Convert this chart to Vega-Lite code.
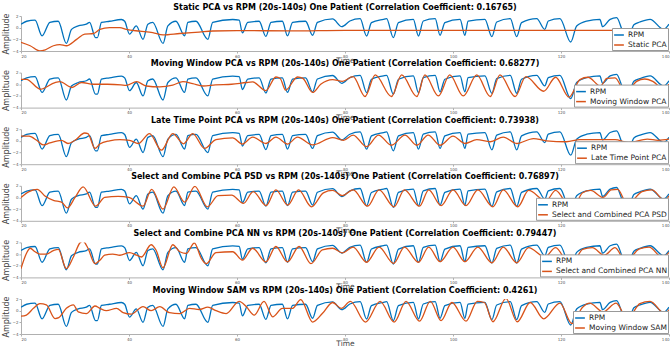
{
"$schema": "https://vega.github.io/schema/vega-lite/v6.json",
"background": "white",
"padding": {"left": 2, "top": 3, "right": 1, "bottom": 0},
"spacing": 21.6,
"bounds": "flush",
"resolve": {"scale": {"color": "independent"}, "legend": {"color": "independent"}},
"config": {
  "view": {"stroke": null},
  "font": "DejaVu Sans",
  "title": {"fontSize": 8, "font": "DejaVu Sans", "fontWeight": "bold", "anchor": "middle", "offset": 1.5, "color": "black"},
  "axis": {"grid": false, "domainColor": "#b0b0b0", "tickColor": "#b0b0b0", "labelFontSize": 4, "labelColor": "#555", "tickSize": 2, "labelPadding": 1, "labelOverlap": false, "labelBound": false, "titleFontSize": 7.5, "titleFontWeight": "normal", "titleColor": "#444", "titleFont": "DejaVu Sans", "labelFont": "DejaVu Sans"},
  "axisX": {"titlePadding": -1.5},
  "axisY": {"titlePadding": 2, "titleFontSize": 8},
  "legend": {"orient": "bottom-right", "offset": 1, "fillColor": "white", "strokeColor": "#999", "padding": 1, "labelFontSize": 7.5, "labelFont": "DejaVu Sans", "labelColor": "#222", "labelOffset": 3, "symbolType": "stroke", "symbolSize": 95, "symbolStrokeWidth": 1.5, "rowPadding": 0, "labelLimit": 300}
},
"datasets": {
"rpm": [{"t":20,"v":0.6},{"t":21.05,"v":1.1},{"t":22.6,"v":1.3},{"t":23.9,"v":-1.4},{"t":25.35,"v":0.9},{"t":26.9,"v":1.1},{"t":28.4,"v":-2.7},{"t":29.35,"v":-0.3},{"t":30.6,"v":0.3},{"t":32.1,"v":0.6},{"t":32.7,"v":0.9},{"t":33.8,"v":-1.7},{"t":34.15,"v":-1.7},{"t":34.9,"v":0.9},{"t":36.4,"v":1.1},{"t":38.6,"v":1.4},{"t":39.2,"v":1.1},{"t":40.1,"v":-1.1},{"t":41.35,"v":0.3},{"t":42.6,"v":-2.0},{"t":43.5,"v":0.6},{"t":44.4,"v":0.9},{"t":46.3,"v":-2.7},{"t":47.2,"v":0.3},{"t":48.7,"v":1.1},{"t":50.3,"v":-1.4},{"t":50.9,"v":0.9},{"t":52.4,"v":1.1},{"t":54.6,"v":-2.0},{"t":55.5,"v":0.9},{"t":59.2,"v":1.4},{"t":60.4,"v":1.3},{"t":61.0,"v":-0.9},{"t":62.0,"v":0.9},{"t":64.1,"v":1.1},{"t":65.35,"v":-1.5},{"t":66.3,"v":0.9},{"t":68.4,"v":1.1},{"t":69.35,"v":-1.4},{"t":70.3,"v":0.9},{"t":72.7,"v":1.1},{"t":74.0,"v":-1.3},{"t":74.9,"v":0.9},{"t":77.7,"v":1.5},{"t":79.4,"v":0.17},{"t":80.9,"v":1.14},{"t":82.8,"v":1.54},{"t":84.0,"v":-1.43},{"t":84.9,"v":0.86},{"t":87.1,"v":1.43},{"t":87.7,"v":1.54},{"t":88.95,"v":-1.7},{"t":89.9,"v":0.86},{"t":92.65,"v":1.43},{"t":93.6,"v":-1.43},{"t":94.5,"v":1.14},{"t":96.7,"v":1.54},{"t":97.6,"v":-1.3},{"t":98.5,"v":0.86},{"t":101.3,"v":1.43},{"t":102.2,"v":-1.3},{"t":102.8,"v":1.14},{"t":105.9,"v":1.43},{"t":107.2,"v":-1.54},{"t":108.1,"v":0.97},{"t":110.6,"v":1.54},{"t":111.8,"v":-1.54},{"t":112.7,"v":0.86},{"t":115.5,"v":1.54},{"t":117.0,"v":-0.29},{"t":117.65,"v":1.14},{"t":119.8,"v":1.54},{"t":121.8,"v":-2.46},{"t":122.9,"v":0.29},{"t":124.75,"v":1.14},{"t":127.2,"v":1.43},{"t":127.7,"v":0.17},{"t":129.1,"v":1.43},{"t":130.3,"v":1.71},{"t":131.5,"v":-0.74},{"t":132.5,"v":-1.5},{"t":133.5,"v":0.5},{"t":134.6,"v":0.97},{"t":136.5,"v":1.43},{"t":139.0,"v":-0.29},{"t":140,"v":0.6}],
"static": [{"t":20,"v":-2.5},{"t":21.7,"v":-3.1},{"t":23.5,"v":-4.0},{"t":24.5,"v":-3.8},{"t":26,"v":-3.1},{"t":27.2,"v":-2.9},{"t":28.4,"v":-3.1},{"t":30.3,"v":-2.0},{"t":31.8,"v":-1.1},{"t":33.4,"v":-1.0},{"t":34.6,"v":-0.3},{"t":36.4,"v":0},{"t":38.3,"v":0},{"t":39.5,"v":-0.3},{"t":42,"v":-0.6},{"t":44.4,"v":-0.85},{"t":46.3,"v":-1.25},{"t":49.4,"v":-1.0},{"t":53,"v":-0.75},{"t":55.5,"v":-0.57},{"t":60,"v":-0.5},{"t":70,"v":-0.55},{"t":80,"v":-0.45},{"t":100,"v":-0.45},{"t":120,"v":-0.45},{"t":140,"v":-0.45}],
"mwpca": [{"t":20,"v":0.85},{"t":21,"v":0.85},{"t":23.6,"v":-0.85},{"t":26.3,"v":0.3},{"t":27.2,"v":0.45},{"t":29.4,"v":-0.55},{"t":31.2,"v":0.3},{"t":33.4,"v":0},{"t":36,"v":0},{"t":38.5,"v":-0.1},{"t":39.5,"v":-0.2},{"t":41.4,"v":0.45},{"t":43.2,"v":-0.3},{"t":45.7,"v":-0.45},{"t":48.1,"v":-0.15},{"t":50,"v":0.45},{"t":51.8,"v":0.1},{"t":53.7,"v":-0.3},{"t":56,"v":-0.1},{"t":59,"v":0},{"t":61.7,"v":0.3},{"t":62.9,"v":0.4},{"t":65.35,"v":-1.1},{"t":67.2,"v":1.25},{"t":68,"v":1.0},{"t":69.0,"v":-1.0},{"t":71.2,"v":1.25},{"t":72.2,"v":1.0},{"t":74.0,"v":-1.4},{"t":75.5,"v":0},{"t":77.7,"v":0.8},{"t":79.5,"v":0.5},{"t":81.5,"v":1.3},{"t":83.7,"v":-2.1},{"t":85.6,"v":1.6},{"t":88.6,"v":-2.1},{"t":90.5,"v":1.6},{"t":93.3,"v":-2.1},{"t":94.8,"v":1.6},{"t":97.3,"v":-2.0},{"t":99.4,"v":1.6},{"t":101.9,"v":-2.0},{"t":104.4,"v":1.6},{"t":106.9,"v":-2.1},{"t":108.7,"v":1.6},{"t":111.5,"v":-2.1},{"t":113.5,"v":1.3},{"t":116.8,"v":-1.2},{"t":119,"v":1.2},{"t":121.5,"v":-2.2},{"t":123.5,"v":0.8},{"t":125,"v":1.2},{"t":127.3,"v":-0.3},{"t":128.5,"v":1.0},{"t":130,"v":1.1},{"t":132,"v":-1.5},{"t":134,"v":0.5},{"t":135.5,"v":0.9},{"t":137,"v":0.5},{"t":139,"v":-0.8},{"t":140,"v":0}],
"ltp": [{"t":20,"v":0.8},{"t":21.5,"v":0.8},{"t":22.9,"v":0.1},{"t":24.1,"v":-0.7},{"t":25.35,"v":-0.35},{"t":27.5,"v":0.1},{"t":28.7,"v":-0.45},{"t":30,"v":0.1},{"t":31.8,"v":1.35},{"t":32.4,"v":1.25},{"t":33.7,"v":-1.3},{"t":34.6,"v":-0.55},{"t":36.4,"v":0},{"t":38.3,"v":0.2},{"t":40.1,"v":0.1},{"t":41.7,"v":-0.45},{"t":43.8,"v":1.25},{"t":46,"v":-1.6},{"t":48.1,"v":1.25},{"t":50.1,"v":-0.5},{"t":51.8,"v":1.25},{"t":54,"v":-1.3},{"t":56.1,"v":0.2},{"t":59.2,"v":0.5},{"t":61,"v":-0.55},{"t":62.9,"v":0.65},{"t":65.35,"v":-0.45},{"t":67.2,"v":0.65},{"t":69.35,"v":-0.55},{"t":71.2,"v":0.65},{"t":74,"v":-0.7},{"t":77.7,"v":0.55},{"t":79.7,"v":0.1},{"t":81.5,"v":1.0},{"t":84,"v":-1.0},{"t":86.2,"v":1.0},{"t":88.6,"v":-0.75},{"t":91.1,"v":1.0},{"t":93.3,"v":-0.75},{"t":95.4,"v":1.0},{"t":97.6,"v":-0.75},{"t":100,"v":0.8},{"t":102.2,"v":-0.45},{"t":104.4,"v":0.2},{"t":106.9,"v":-0.15},{"t":109.3,"v":0.65},{"t":111.8,"v":-0.45},{"t":114.9,"v":0.4},{"t":117.3,"v":0},{"t":121,"v":-0.15},{"t":123.5,"v":0.2},{"t":126.6,"v":0.2},{"t":130,"v":0.2},{"t":132.5,"v":-0.3},{"t":136,"v":0.3},{"t":138,"v":0.1},{"t":140,"v":0.3}],
"psd": [{"t":20,"v":0},{"t":21.5,"v":1.0},{"t":23,"v":1.4},{"t":24.5,"v":0.2},{"t":26,"v":-0.5},{"t":27.5,"v":-0.8},{"t":28.6,"v":-1.8},{"t":30,"v":0},{"t":31.5,"v":1.8},{"t":33.8,"v":-1.5},{"t":35.5,"v":0},{"t":38,"v":0.2},{"t":40,"v":0},{"t":42.6,"v":-1.5},{"t":44.2,"v":1.4},{"t":46.3,"v":-2.0},{"t":48.3,"v":1.8},{"t":50.3,"v":-0.8},{"t":52.2,"v":1.9},{"t":54.5,"v":-1.6},{"t":56.5,"v":0.3},{"t":59,"v":0.4},{"t":61.2,"v":-1.0},{"t":63,"v":1.0},{"t":65.4,"v":-1.4},{"t":67.2,"v":1.3},{"t":69.4,"v":-1.3},{"t":71.4,"v":1.3},{"t":73.8,"v":-1.6},{"t":76,"v":0.8},{"t":77.7,"v":1.2},{"t":79.5,"v":0.3},{"t":81.5,"v":1.3},{"t":84.2,"v":-1.5},{"t":86.3,"v":1.3},{"t":89.1,"v":-1.6},{"t":91,"v":1.3},{"t":93.8,"v":-1.5},{"t":95.5,"v":1.3},{"t":97.8,"v":-1.4},{"t":100,"v":1.3},{"t":102.4,"v":-1.4},{"t":104.6,"v":1.3},{"t":107.4,"v":-1.6},{"t":109.3,"v":1.3},{"t":112,"v":-1.6},{"t":114,"v":1.2},{"t":117.2,"v":-0.6},{"t":119,"v":1.2},{"t":122,"v":-2.2},{"t":124,"v":0.8},{"t":125.5,"v":1.2},{"t":127.8,"v":0},{"t":129.3,"v":1.3},{"t":130.5,"v":1.4},{"t":132.3,"v":-1.2},{"t":135,"v":1.0},{"t":136.8,"v":1.3},{"t":139.2,"v":-0.5},{"t":140,"v":0.3}],
"nn": [{"t":20,"v":-2.5},{"t":21,"v":0.1},{"t":21.7,"v":1.0},{"t":22.6,"v":0.4},{"t":23.5,"v":0},{"t":24.7,"v":0},{"t":26,"v":0.6},{"t":26.9,"v":0.8},{"t":28.4,"v":-2.5},{"t":29.7,"v":-0.5},{"t":30.9,"v":1.9},{"t":31.5,"v":2.2},{"t":32.4,"v":1.0},{"t":33.7,"v":-1.65},{"t":34.6,"v":-1.05},{"t":35.5,"v":-0.2},{"t":37,"v":0},{"t":38.3,"v":-0.2},{"t":40.1,"v":0.25},{"t":41.4,"v":-0.2},{"t":42.3,"v":-0.5},{"t":44.1,"v":1.6},{"t":45,"v":0.7},{"t":46.3,"v":-2.35},{"t":48.1,"v":1.6},{"t":49.4,"v":0.4},{"t":50.6,"v":0.1},{"t":52.1,"v":1.9},{"t":53.4,"v":-0.75},{"t":54.3,"v":-1.65},{"t":56.1,"v":0.25},{"t":59.2,"v":0.4},{"t":61,"v":-1.05},{"t":62.9,"v":1.0},{"t":65.35,"v":-1.35},{"t":67.2,"v":1.3},{"t":69.35,"v":-1.35},{"t":71.5,"v":1.3},{"t":73.7,"v":-1.65},{"t":75.8,"v":0.7},{"t":77.7,"v":1.0},{"t":79.5,"v":0.2},{"t":81.5,"v":1.2},{"t":84,"v":-1.4},{"t":86.3,"v":1.2},{"t":89,"v":-1.6},{"t":91,"v":1.2},{"t":93.6,"v":-1.4},{"t":95.5,"v":1.2},{"t":97.6,"v":-1.3},{"t":100,"v":1.2},{"t":102.2,"v":-1.3},{"t":104.6,"v":1.2},{"t":107.2,"v":-1.5},{"t":109.3,"v":1.2},{"t":111.8,"v":-1.5},{"t":114,"v":1.1},{"t":117,"v":-0.5},{"t":119,"v":1.1},{"t":121.8,"v":-2.2},{"t":124,"v":0.8},{"t":125.8,"v":1.1},{"t":128,"v":-0.2},{"t":130,"v":1.1},{"t":132,"v":-1.3},{"t":134.5,"v":0.9},{"t":136.3,"v":1.2},{"t":138.8,"v":-0.6},{"t":140,"v":0.3}],
"sam": [{"t":20,"v":-0.95},{"t":21,"v":-0.75},{"t":22.3,"v":0.4},{"t":23.5,"v":1.2},{"t":24.7,"v":1.0},{"t":26.3,"v":-1.35},{"t":27,"v":-1.2},{"t":28.4,"v":0.4},{"t":29.7,"v":1.0},{"t":30.6,"v":-0.2},{"t":32.1,"v":-0.5},{"t":33.7,"v":0.8},{"t":34.6,"v":0.4},{"t":35.8,"v":0},{"t":37.7,"v":0.4},{"t":38.9,"v":-0.35},{"t":40.4,"v":-0.6},{"t":42.6,"v":0.7},{"t":44.1,"v":0},{"t":45.7,"v":0.7},{"t":47.5,"v":-0.35},{"t":49.4,"v":-0.5},{"t":51.2,"v":0.4},{"t":53,"v":0.2},{"t":54.6,"v":0.6},{"t":56.1,"v":0},{"t":58,"v":-0.5},{"t":60.4,"v":1.6},{"t":61.7,"v":0.7},{"t":63.2,"v":-0.75},{"t":65,"v":1.6},{"t":66.6,"v":-1.05},{"t":68.4,"v":0.4},{"t":70.3,"v":0.4},{"t":71.8,"v":1.9},{"t":74,"v":-1.95},{"t":75.8,"v":-0.5},{"t":77.7,"v":1.4},{"t":79.3,"v":0.4},{"t":81,"v":1.6},{"t":83.8,"v":-1.95},{"t":86.5,"v":1.6},{"t":89.1,"v":-1.95},{"t":91.3,"v":1.6},{"t":93.8,"v":-1.8},{"t":95.8,"v":1.6},{"t":97.8,"v":-1.7},{"t":99.8,"v":1.4},{"t":102.4,"v":-1.8},{"t":104.5,"v":1.6},{"t":105.8,"v":1.4},{"t":107.4,"v":-1.9},{"t":109.8,"v":2.1},{"t":111.9,"v":-1.9},{"t":114.3,"v":1.4},{"t":116.8,"v":-1.4},{"t":119.8,"v":1.3},{"t":122,"v":-2.2},{"t":124,"v":0.6},{"t":125.3,"v":1.3},{"t":127.8,"v":-0.2},{"t":130.2,"v":1.3},{"t":132.3,"v":-1.4},{"t":134.6,"v":1.2},{"t":136.5,"v":1.6},{"t":139.2,"v":-0.5},{"t":140,"v":0.2}]
},
"vconcat": [
{"width": 648, "height": 35, "title": "Static PCA vs RPM (20s-140s) One Patient (Correlation Coefficient: 0.16765)",
 "encoding": {"x": {"field": "t", "type": "quantitative", "scale": {"domain": [20,140]}, "title": "Time", "axis": {"values": [20,40,60,80,100,120,140]}}, "y": {"field": "v", "type": "quantitative", "scale": {"domain": [-4,2]}, "title": "Amplitude", "axis": {"values": [-4,-2,0,2]}}},
 "layer": [
  {"data": {"name": "rpm"}, "mark": {"type": "line", "interpolate": "monotone", "strokeWidth": 1.3, "clip": true}, "encoding": {"color": {"datum": "RPM", "type": "nominal", "scale": {"domain": ["RPM","Static PCA"], "range": ["#0072BD","#D95319"]}, "legend": {"title": null}}}},
  {"data": {"name": "static"}, "mark": {"type": "line", "interpolate": "monotone", "strokeWidth": 1.3, "clip": true}, "encoding": {"color": {"datum": "Static PCA", "type": "nominal"}}}
 ]},
{"width": 648, "height": 35, "title": "Moving Window PCA vs RPM (20s-140s) One Patient (Correlation Coefficient: 0.68277)",
 "encoding": {"x": {"field": "t", "type": "quantitative", "scale": {"domain": [20,140]}, "title": "Time", "axis": {"values": [20,40,60,80,100,120,140]}}, "y": {"field": "v", "type": "quantitative", "scale": {"domain": [-4,2]}, "title": "Amplitude", "axis": {"values": [-4,-2,0,2]}}},
 "layer": [
  {"data": {"name": "rpm"}, "mark": {"type": "line", "interpolate": "monotone", "strokeWidth": 1.3, "clip": true}, "encoding": {"color": {"datum": "RPM", "type": "nominal", "scale": {"domain": ["RPM","Moving Window PCA"], "range": ["#0072BD","#D95319"]}, "legend": {"title": null}}}},
  {"data": {"name": "mwpca"}, "mark": {"type": "line", "interpolate": "monotone", "strokeWidth": 1.3, "clip": true}, "encoding": {"color": {"datum": "Moving Window PCA", "type": "nominal"}}}
 ]},
{"width": 648, "height": 35, "title": "Late Time Point PCA vs RPM (20s-140s) One Patient (Correlation Coefficient: 0.73938)",
 "encoding": {"x": {"field": "t", "type": "quantitative", "scale": {"domain": [20,140]}, "title": "Time", "axis": {"values": [20,40,60,80,100,120,140]}}, "y": {"field": "v", "type": "quantitative", "scale": {"domain": [-4,2]}, "title": "Amplitude", "axis": {"values": [-4,-2,0,2]}}},
 "layer": [
  {"data": {"name": "rpm"}, "mark": {"type": "line", "interpolate": "monotone", "strokeWidth": 1.3, "clip": true}, "encoding": {"color": {"datum": "RPM", "type": "nominal", "scale": {"domain": ["RPM","Late Time Point PCA"], "range": ["#0072BD","#D95319"]}, "legend": {"title": null}}}},
  {"data": {"name": "ltp"}, "mark": {"type": "line", "interpolate": "monotone", "strokeWidth": 1.3, "clip": true}, "encoding": {"color": {"datum": "Late Time Point PCA", "type": "nominal"}}}
 ]},
{"width": 648, "height": 35, "title": "Select and Combine PCA PSD vs RPM (20s-140s) One Patient (Correlation Coefficient: 0.76897)",
 "encoding": {"x": {"field": "t", "type": "quantitative", "scale": {"domain": [20,140]}, "title": "Time", "axis": {"values": [20,40,60,80,100,120,140]}}, "y": {"field": "v", "type": "quantitative", "scale": {"domain": [-4,2]}, "title": "Amplitude", "axis": {"values": [-4,-2,0,2]}}},
 "layer": [
  {"data": {"name": "rpm"}, "mark": {"type": "line", "interpolate": "monotone", "strokeWidth": 1.3, "clip": true}, "encoding": {"color": {"datum": "RPM", "type": "nominal", "scale": {"domain": ["RPM","Select and Combined PCA PSD"], "range": ["#0072BD","#D95319"]}, "legend": {"title": null}}}},
  {"data": {"name": "psd"}, "mark": {"type": "line", "interpolate": "monotone", "strokeWidth": 1.3, "clip": true}, "encoding": {"color": {"datum": "Select and Combined PCA PSD", "type": "nominal"}}}
 ]},
{"width": 648, "height": 35, "title": "Select and Combine PCA NN vs RPM (20s-140s) One Patient (Correlation Coefficient: 0.79447)",
 "encoding": {"x": {"field": "t", "type": "quantitative", "scale": {"domain": [20,140]}, "title": "Time", "axis": {"values": [20,40,60,80,100,120,140]}}, "y": {"field": "v", "type": "quantitative", "scale": {"domain": [-4,2]}, "title": "Amplitude", "axis": {"values": [-4,-2,0,2]}}},
 "layer": [
  {"data": {"name": "rpm"}, "mark": {"type": "line", "interpolate": "monotone", "strokeWidth": 1.3, "clip": true}, "encoding": {"color": {"datum": "RPM", "type": "nominal", "scale": {"domain": ["RPM","Select and Combined PCA NN"], "range": ["#0072BD","#D95319"]}, "legend": {"title": null}}}},
  {"data": {"name": "nn"}, "mark": {"type": "line", "interpolate": "monotone", "strokeWidth": 1.3, "clip": true}, "encoding": {"color": {"datum": "Select and Combined PCA NN", "type": "nominal"}}}
 ]},
{"width": 648, "height": 35, "title": "Moving Window SAM vs RPM (20s-140s) One Patient (Correlation Coefficient: 0.4261)",
 "encoding": {"x": {"field": "t", "type": "quantitative", "scale": {"domain": [20,140]}, "title": "Time", "axis": {"values": [20,40,60,80,100,120,140]}}, "y": {"field": "v", "type": "quantitative", "scale": {"domain": [-4,2]}, "title": "Amplitude", "axis": {"values": [-4,-2,0,2]}}},
 "layer": [
  {"data": {"name": "rpm"}, "mark": {"type": "line", "interpolate": "monotone", "strokeWidth": 1.3, "clip": true}, "encoding": {"color": {"datum": "RPM", "type": "nominal", "scale": {"domain": ["RPM","Moving Window SAM"], "range": ["#0072BD","#D95319"]}, "legend": {"title": null}}}},
  {"data": {"name": "sam"}, "mark": {"type": "line", "interpolate": "monotone", "strokeWidth": 1.3, "clip": true}, "encoding": {"color": {"datum": "Moving Window SAM", "type": "nominal"}}}
 ]}
]
}
